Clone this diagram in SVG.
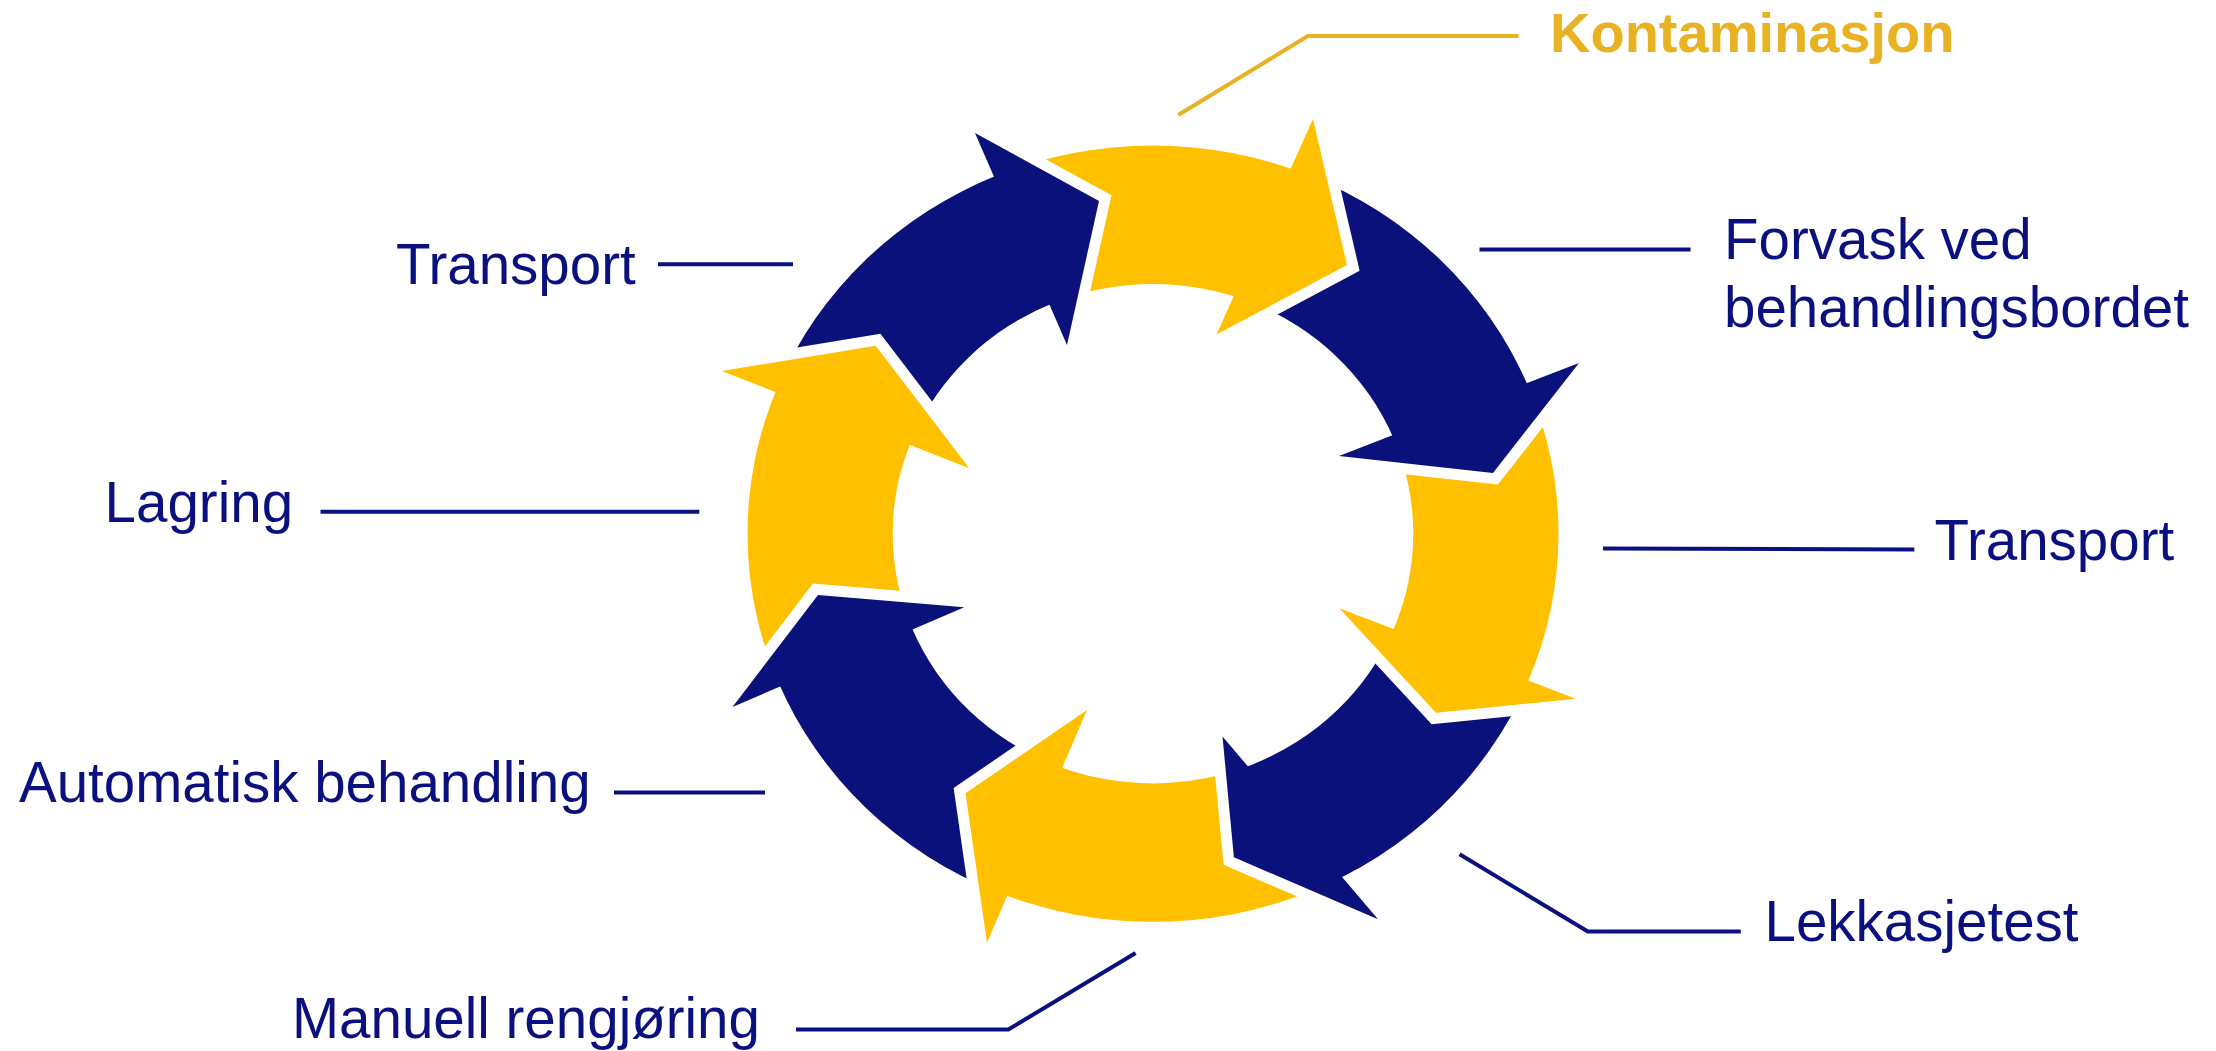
<svg xmlns="http://www.w3.org/2000/svg" width="2216" height="1051" viewBox="0 0 2216 1051">
<style>
.lbl{font-family:"Liberation Sans",Arial,Helvetica,sans-serif;font-size:56.5px;fill:#0B1080}
.kont{font-family:"Liberation Sans",Arial,Helvetica,sans-serif;font-size:56px;font-weight:bold;fill:#E9B223}
.blue{fill:#0A117A}
.yellow{fill:#FFC000}
.lead{fill:none;stroke:#0B1080;stroke-width:4}
.lead-k{fill:none;stroke:#E9B223;stroke-width:4}
.cut{fill:#000;stroke:#000;stroke-width:22;stroke-linejoin:miter}
</style>
<defs>
<clipPath id="ring"><path clip-rule="evenodd" d="M747.5 533.7 A405.5 388 0 1 1 1558.5 533.7 A405.5 388 0 1 1 747.5 533.7 Z M892.7 533.7 A260.3 249.6 0 1 0 1413.3 533.7 A260.3 249.6 0 1 0 892.7 533.7 Z"/></clipPath>
<mask id="m1" maskUnits="userSpaceOnUse" x="0" y="0" width="2216" height="1051"><rect width="2216" height="1051" fill="#fff"/><path class="cut" d="M721.7 371 L875.7 345.7 L969.3 468.3 Z"/></mask>
<mask id="m2" maskUnits="userSpaceOnUse" x="0" y="0" width="2216" height="1051"><rect width="2216" height="1051" fill="#fff"/><path class="cut" d="M975 133 L1099 201 L1067 345 Z"/></mask>
<mask id="m3" maskUnits="userSpaceOnUse" x="0" y="0" width="2216" height="1051"><rect width="2216" height="1051" fill="#fff"/><path class="cut" d="M1313 119 L1347 265 L1216.5 334.5 Z"/></mask>
<mask id="m4" maskUnits="userSpaceOnUse" x="0" y="0" width="2216" height="1051"><rect width="2216" height="1051" fill="#fff"/><path class="cut" d="M1579 363 L1493 473 L1339 456 Z"/></mask>
<mask id="m5" maskUnits="userSpaceOnUse" x="0" y="0" width="2216" height="1051"><rect width="2216" height="1051" fill="#fff"/><path class="cut" d="M1575.7 698.7 L1436 712.7 L1339.3 608.3 Z"/></mask>
<mask id="m6" maskUnits="userSpaceOnUse" x="0" y="0" width="2216" height="1051"><rect width="2216" height="1051" fill="#fff"/><path class="cut" d="M1378 919.3 L1233.9 857.3 L1222.5 736.5 Z"/></mask>
<mask id="m7" maskUnits="userSpaceOnUse" x="0" y="0" width="2216" height="1051"><rect width="2216" height="1051" fill="#fff"/><path class="cut" d="M987 942.7 L965.5 793.3 L1087 710 Z"/></mask>
<mask id="m8" maskUnits="userSpaceOnUse" x="0" y="0" width="2216" height="1051"><rect width="2216" height="1051" fill="#fff"/><path class="cut" d="M732.5 707 L818 595 L964.2 607.3 Z"/></mask>
</defs>
<rect width="2216" height="1051" fill="#fff"/>

<g id="connectors">
<path class="lead-k" d="M1178.3 115 L1307.8 36 L1518.5 36"/>
<path class="lead" d="M1479.5 249.5 L1690.5 249.5"/>
<path class="lead" d="M1603 548.5 L1914.4 549.5"/>
<path class="lead" d="M1459.6 854.3 L1587.8 931.5 L1740.8 931.5"/>
<path class="lead" d="M1135.6 953 L1008.4 1029.5 L796 1029.5"/>
<path class="lead" d="M765 792.6 L614 792.6"/>
<path class="lead" d="M699.3 511.8 L320.5 511.8"/>
<path class="lead" d="M793 264.3 L658 264.3"/>
</g>

<g id="stage-transport-top">
<path class="blue" clip-path="url(#ring)" mask="url(#m1)" d="M947.6 451.25 L650.45 334.4 L955.2 65.6 L1065.6 320 Z"/>
<path class="blue" d="M975 133 L1099 201 L1067 345 Z"/>
<text class="lbl" x="396" y="284">Transport</text>
</g>

<g id="stage-kontaminasjon">
<path class="yellow" clip-path="url(#ring)" mask="url(#m2)" d="M1065.6 320 L955.2 65.6 L1350.15 58.15 L1234.35 316.75 Z"/>
<path class="yellow" d="M1313 119 L1347 265 L1216.5 334.5 Z"/>
<text class="kont" x="1550" y="52">Kontaminasjon</text>
</g>

<g id="stage-forvask">
<path class="blue" clip-path="url(#ring)" mask="url(#m3)" d="M1234.35 316.75 L1350.15 58.15 L1654.4 341.45 L1366.4 453.05 Z"/>
<path class="blue" d="M1579 363 L1493 473 L1339 456 Z"/>
<text class="lbl" x="1724" y="258.5">Forvask ved</text>
<text class="lbl" x="1724" y="326.5">behandlingsbordet</text>
</g>

<g id="stage-transport-right">
<path class="yellow" clip-path="url(#ring)" mask="url(#m4)" d="M1366.4 453.05 L1654.4 341.45 L1644.5 731.75 L1360.8 623.3 Z"/>
<path class="yellow" d="M1575.7 698.7 L1436 712.7 L1339.3 608.3 Z"/>
<text class="lbl" x="1934.5" y="560">Transport</text>
</g>

<g id="stage-lekkasjetest">
<path class="blue" clip-path="url(#ring)" mask="url(#m5)" d="M1360.8 623.3 L1644.5 731.75 L1418 977 L1231.4 757.7 Z"/>
<path class="blue" d="M1378 919.3 L1233.9 857.3 L1222.5 736.5 Z"/>
<text class="lbl" x="1764.5" y="940.7">Lekkasjetest</text>
</g>

<g id="stage-manuell">
<path class="yellow" clip-path="url(#ring)" mask="url(#m6)" d="M1231.4 757.7 L1418 977 L949.85 1009.2 L1069.85 729.9 Z"/>
<path class="yellow" d="M987 942.7 L965.5 793.3 L1087 710 Z"/>
<text class="lbl" x="292" y="1038">Manuell rengjøring</text>
</g>

<g id="stage-automatisk">
<path class="blue" clip-path="url(#ring)" mask="url(#m7)" d="M1069.85 729.9 L949.85 1009.2 L659.9 730.8 L938 611.05 Z"/>
<path class="blue" d="M732.5 707 L818 595 L964.2 607.3 Z"/>
<text class="lbl" x="19" y="801.7">Automatisk behandling</text>
</g>

<g id="stage-lagring">
<path class="yellow" clip-path="url(#ring)" mask="url(#m8)" d="M938 611.05 L659.9 730.8 L650.45 334.4 L947.6 451.25 Z"/>
<path class="yellow" d="M721.7 371 L875.7 345.7 L969.3 468.3 Z"/>
<text class="lbl" x="104.6" y="521.7">Lagring</text>
</g>
</svg>
